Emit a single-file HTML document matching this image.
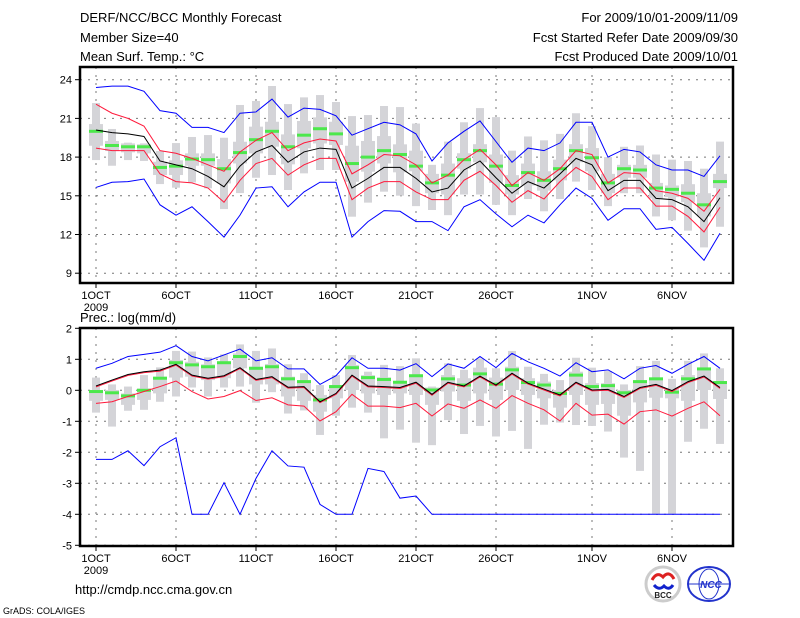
<!DOCTYPE html>
<html><head><meta charset="utf-8"><style>
body{margin:0;background:#fff;width:800px;height:618px;overflow:hidden;font-family:"Liberation Sans",sans-serif}
svg{position:absolute;left:0;top:0}
</style></head><body>
<svg id="c" width="800" height="618" xmlns="http://www.w3.org/2000/svg" font-family="Liberation Sans, sans-serif">
<text x="80" y="22" font-size="13">DERF/NCC/BCC Monthly Forecast</text>
<text x="80" y="42" font-size="13">Member Size=40</text>
<text x="80" y="61" font-size="13">Mean Surf. Temp.: °C</text>
<text x="738" y="22" font-size="13" text-anchor="end">For 2009/10/01-2009/11/09</text>
<text x="738" y="42" font-size="13" text-anchor="end">Fcst Started Refer Date 2009/09/30</text>
<text x="738" y="61" font-size="13" text-anchor="end">Fcst Produced Date 2009/10/01</text>
<text x="80" y="322" font-size="13">Prec.: log(mm/d)</text>
<text x="75" y="594" font-size="13">http://cmdp.ncc.cma.gov.cn</text>
<text x="3" y="614" font-size="9">GrADS: COLA/IGES</text>
<g><circle cx="663" cy="584" r="17" fill="#fff" stroke="#ccc" stroke-width="3"/><path d="M652 580 q5 -9 11 -3 q6 -7 11 2" fill="none" stroke="#d22" stroke-width="3"/><path d="M654 585 q5 6 10 1 q5 5 9 -1" fill="none" stroke="#12c" stroke-width="3"/><text x="663" y="598" font-size="8" text-anchor="middle" fill="#222" font-weight="bold">BCC</text></g>
<g><ellipse cx="709" cy="584" rx="21" ry="17" fill="#fff" stroke="#23c" stroke-width="2"/><ellipse cx="709" cy="584" rx="10" ry="15" fill="none" stroke="#23c"/><line x1="689" y1="584" x2="729" y2="584" stroke="#23c"/><text x="711" y="588" font-size="10" text-anchor="middle" fill="#23c" font-weight="bold" font-style="italic">NCC</text></g>
</svg>
<script>
// ---- Temperature data ----
const tBlueHi=[23.4,23.5,23.5,23.1,21.6,21.4,20.3,20.3,19.9,21.4,21.5,22.5,21.1,21.8,21.7,21.2,19.7,20.2,20.7,20.5,19.8,17.7,19.1,20.0,20.8,19.2,17.6,18.7,18.5,19.1,20.7,20.7,18.0,18.6,18.4,17.4,17.0,17.0,16.5,18.1];
const tRedHi=[22.1,21.4,21.0,20.4,18.5,18.3,17.9,17.4,16.9,18.4,19.3,19.9,18.5,19.1,19.4,19.25,16.7,17.4,18.2,18.1,17.4,16.0,16.6,17.8,18.6,17.4,15.8,16.8,16.2,17.1,18.5,18.2,16.0,16.8,16.7,15.4,15.2,14.8,13.8,15.5];
const tMean=[20.1,19.9,19.8,19.6,17.7,17.4,17.1,16.5,15.7,17.3,18.4,18.9,17.6,18.4,18.7,18.6,15.6,16.35,17.2,17.2,16.35,15.3,15.6,17.0,17.7,16.4,15.2,16.1,15.6,16.7,17.9,17.4,15.4,16.2,16.2,14.8,14.7,14.15,13.0,14.85];
const tRedLo=[18.7,18.5,18.5,18.5,16.7,16.1,16.0,15.6,14.5,16.2,17.5,17.9,16.6,17.4,17.9,17.9,14.7,15.6,16.1,16.1,15.3,14.7,14.7,16.2,16.9,15.8,14.5,15.4,14.75,16.1,17.2,16.5,14.7,15.6,15.6,14.2,14.2,13.4,12.2,14.1];
const tBlueLo=[15.65,16.05,16.1,16.3,14.3,13.5,14.15,13.0,11.8,13.5,15.6,15.7,14.15,15.3,16.05,16.05,11.8,13.0,13.85,13.8,13.0,13.0,12.3,14.15,14.7,13.6,12.6,13.5,12.9,14.3,15.6,14.8,13.1,14.0,14.0,12.4,12.55,11.3,10.0,12.1];
const tMedian=[20.0,18.9,18.8,18.8,17.2,17.3,17.85,17.8,17.1,18.35,19.35,20.0,18.8,19.7,20.2,19.8,17.5,18.0,18.5,18.2,17.3,16.0,16.6,17.8,18.5,17.3,15.8,16.8,16.2,17.1,18.5,17.95,16.0,17.1,17.0,15.6,15.5,15.2,14.3,16.1];
const tWhiskHi=[22.19,20.18,19.12,19.06,18.47,19.09,19.56,19.71,19.5,22.04,22.35,23.51,22.11,22.63,22.81,22.27,21.18,21.26,21.96,21.88,20.6,17.4,19.2,20.7,21.8,21.1,18.5,19.6,19.3,19.8,21.4,20.4,18.0,18.8,18.9,18.2,17.8,17.7,17.1,19.2];
const tWhiskLo=[17.77,17.33,17.77,17.7,15.91,15.63,16.04,15.58,13.97,15.21,16.4,16.61,15.45,16.74,17.0,17.0,13.38,14.47,15.32,15.01,14.2,13.9,13.5,15.1,15.1,14.3,13.5,14.75,13.8,14.75,16.1,15.45,14.2,15.2,15.2,13.4,13.1,12.3,11.0,12.6];
const tBoxHi=[20.56,19.25,19.06,18.99,17.64,17.75,18.29,18.29,17.85,19.19,20.36,20.74,19.76,20.8,21.08,20.74,18.88,19.25,19.63,18.99,18.5,16.7,17.5,18.3,19.0,18.2,16.6,17.5,16.9,17.8,19.0,18.7,16.7,17.4,17.4,16.0,15.8,15.9,15.2,16.7];
const tBoxLo=[18.88,18.47,18.37,18.29,16.61,16.61,17.33,17.33,15.96,17.51,18.29,18.81,17.44,18.68,19.06,18.94,16.09,16.87,17.51,16.82,16.9,15.2,15.1,17.1,17.6,16.0,15.1,15.8,15.4,16.2,17.6,16.9,15.2,16.4,16.4,14.8,14.9,14.5,13.4,15.6];
const tTicks=[24,21,18,15,12,9];
// ---- Precip data ----
const pBlueHi=[0.71,0.87,1.09,1.16,1.23,1.44,1.09,0.95,1.14,1.33,0.95,1.05,0.69,0.69,0.19,0.47,1.05,0.71,0.71,0.65,0.86,0.44,0.85,0.71,1.09,0.73,1.19,0.92,0.71,0.46,0.89,0.6,0.66,0.37,0.71,0.8,0.55,0.84,1.09,0.71];
const pMean=[0.14,0.33,0.51,0.6,0.65,0.84,0.49,0.39,0.47,0.73,0.35,0.44,0.1,0.12,-0.37,-0.1,0.49,0.14,0.12,0.09,0.26,-0.13,0.26,0.14,0.46,0.17,0.55,0.23,0.04,-0.15,0.26,0.01,0.03,-0.2,0.09,0.19,-0.01,0.28,0.46,0.09];
const pRedHi=[0.11,0.3,0.48,0.57,0.62,0.81,0.46,0.36,0.44,0.7,0.32,0.41,0.07,0.09,-0.4,-0.13,0.46,0.11,0.09,0.06,0.23,-0.16,0.23,0.11,0.43,0.14,0.52,0.2,0.01,-0.18,0.23,-0.02,0.0,-0.23,0.06,0.16,-0.04,0.25,0.43,0.06];
const pRedLo=[-0.42,-0.37,-0.2,-0.04,0.12,0.3,-0.04,-0.28,-0.2,-0.01,-0.33,-0.24,-0.47,-0.51,-0.99,-0.69,-0.13,-0.51,-0.51,-0.56,-0.42,-0.83,-0.44,-0.58,-0.31,-0.58,-0.17,-0.42,-0.63,-0.99,-0.42,-0.8,-0.77,-1.09,-0.69,-0.63,-0.83,-0.58,-0.37,-0.82];
const pBlueLo=[-2.23,-2.23,-1.95,-2.43,-1.82,-1.53,-4,-4,-2.98,-4,-2.84,-1.95,-2.44,-2.48,-3.68,-4,-4,-2.52,-2.62,-3.48,-3.41,-4,-4,-4,-4,-4,-4,-4,-4,-4,-4,-4,-4,-4,-4,-4,-4,-4,-4,-4];
const pMedian=[-0.04,-0.08,-0.18,0,0.39,0.89,0.82,0.76,0.89,1.09,0.71,0.76,0.37,0.28,-0.31,0.12,0.73,0.41,0.35,0.26,0.47,0.01,0.37,0.17,0.53,0.2,0.66,0.25,0.17,-0.1,0.49,0.12,0.15,-0.08,0.28,0.37,-0.06,0.37,0.69,0.25];
const pWhiskHi=[0.41,0.19,0.12,0.49,0.74,1.27,1.25,1.06,1.16,1.48,1.27,1.35,0.84,0.55,0.17,0.49,1.14,0.6,0.82,0.78,1.03,0.12,0.87,0.66,1.03,0.71,1.27,0.76,0.53,0.33,1.05,0.73,0.62,0.19,0.78,0.95,0.37,0.95,1.19,0.71];
const pWhiskLo=[-0.72,-1.17,-0.66,-0.63,-0.37,-0.2,0.09,-0.2,0.09,0.12,-0.4,-0.06,-0.75,-0.65,-1.44,-0.82,-0.56,-0.72,-1.55,-1.27,-1.69,-1.77,-0.96,-1.41,-1.15,-1.49,-1.31,-1.89,-1.11,-1.04,-1.12,-1.15,-1.33,-2.17,-2.6,-3.99,-3.99,-1.66,-1.24,-1.73];
const pBoxHi=[0.01,0.01,-0.1,0.06,0.44,0.98,0.92,0.84,0.92,1.19,0.76,0.85,0.44,0.3,-0.15,0.17,0.82,0.49,0.42,0.28,0.49,0.09,0.49,0.39,0.73,0.41,0.76,0.39,0.28,0.01,0.6,0.23,0.23,0.01,0.3,0.39,0.06,0.49,0.71,0.3];
const pBoxLo=[-0.34,-0.31,-0.47,-0.31,-0.1,0.41,0.44,0.33,0.39,0.71,0.19,0.19,-0.2,-0.34,-0.69,-0.26,0.01,-0.1,-0.15,-0.1,-0.15,-0.47,-0.04,-0.34,-0.1,-0.31,0.01,-0.15,-0.26,-0.56,-0.15,-0.47,-0.44,-0.82,-0.39,-0.24,-0.26,-0.34,0.01,-0.28];
const pTicks=[2,1,0,-1,-2,-3,-4,-5];
const dayLabels=["1OCT","6OCT","11OCT","16OCT","21OCT","26OCT","1NOV","6NOV"];
const dayIdx=[0,5,10,15,20,25,31,36];

const svg=document.getElementById('c');
const NS='http://www.w3.org/2000/svg';
function mk(tag,attrs,parent){const e=document.createElementNS(NS,tag);for(const k in attrs)e.setAttribute(k,attrs[k]);(parent||svg).appendChild(e);return e;}
const xs=i=>96+16*i;
const L=80,R=733;

function panel(cfg){
  const g=mk('g',{});
  
  
  const y=cfg.y;
  cfg.ticks.forEach(t=>{
    const gl=mk('line',{x1:L,x2:R,y1:y(t),y2:y(t),stroke:'#777','stroke-dasharray':'2,6'},g);
    
    
    const tk=mk('line',{x1:L-5,x2:L,y1:y(t),y2:y(t),stroke:'#000'},g);
    
    
    const tl=mk('text',{x:L-8,y:y(t)+4,'font-size':11,'text-anchor':'end'},g);
    tl.textContent=t;
    
    
  });
  dayIdx.forEach((d,k)=>{
    const vl=mk('line',{x1:xs(d),x2:xs(d),y1:cfg.top,y2:cfg.bot,stroke:'#777','stroke-dasharray':'2,6'},g);
    
    
    const tk=mk('line',{x1:xs(d),x2:xs(d),y1:cfg.bot,y2:cfg.bot+5,stroke:'#000'},g);
    
    
    const tl=mk('text',{x:xs(d),y:cfg.bot+16,'font-size':11,'text-anchor':'middle'},g);
    tl.textContent=dayLabels[k];
    
    
  });
  const yr=mk('text',{x:96,y:cfg.bot+28,'font-size':11,'text-anchor':'middle'},g);
  yr.textContent='2009';
  
  
  cfg.wh.forEach((v,i)=>{
    const w=mk('rect',{x:xs(i)-4,y:y(v),width:8,height:y(cfg.wl[i])-y(v),fill:'#d4d4d8'},g);
    
    
    const b=mk('rect',{x:xs(i)-7,y:y(cfg.bh[i]),width:14,height:y(cfg.bl[i])-y(cfg.bh[i]),fill:'#d4d4d8'},g);
    
    
  });
  cfg.med.forEach((v,i)=>{
    const m=mk('rect',{x:xs(i)-7,y:y(v)-1.5,width:14,height:3,fill:'#4ce84c'},g);
    
    
  });
  cfg.lines.forEach(([arr,col,nm])=>{
    const p=mk('polyline',{points:arr.map((v,i)=>xs(i)+','+y(v)).join(' '),fill:'none',stroke:col,'stroke-width':1},g);
    
    
  });
  const f=mk('rect',{x:L,y:cfg.top,width:R-L,height:cfg.bot-cfg.top,fill:'none',stroke:'#000','stroke-width':2.5},g);
  
  
}
panel({name:'temperature-panel',top:67,bot:283,ticks:tTicks,y:v=>79.7+(24-v)*12.9,
  wh:tWhiskHi,wl:tWhiskLo,bh:tBoxHi,bl:tBoxLo,med:tMedian,
  lines:[[tBlueHi,'#0000ff','max-line'],[tRedHi,'#ff1a3c','upper-line'],[tMean,'#000','mean-line'],[tRedLo,'#ff1a3c','lower-line'],[tBlueLo,'#0000ff','min-line']]});
panel({name:'precip-panel',top:328,bot:546,ticks:pTicks,y:v=>390.3-v*31,
  wh:pWhiskHi,wl:pWhiskLo,bh:pBoxHi,bl:pBoxLo,med:pMedian,
  lines:[[pBlueHi,'#0000ff','max-line'],[pRedHi,'#ff1a3c','upper-line'],[pMean,'#000','mean-line'],[pRedLo,'#ff1a3c','lower-line'],[pBlueLo,'#0000ff','min-line']]});
</script>
</body></html>
